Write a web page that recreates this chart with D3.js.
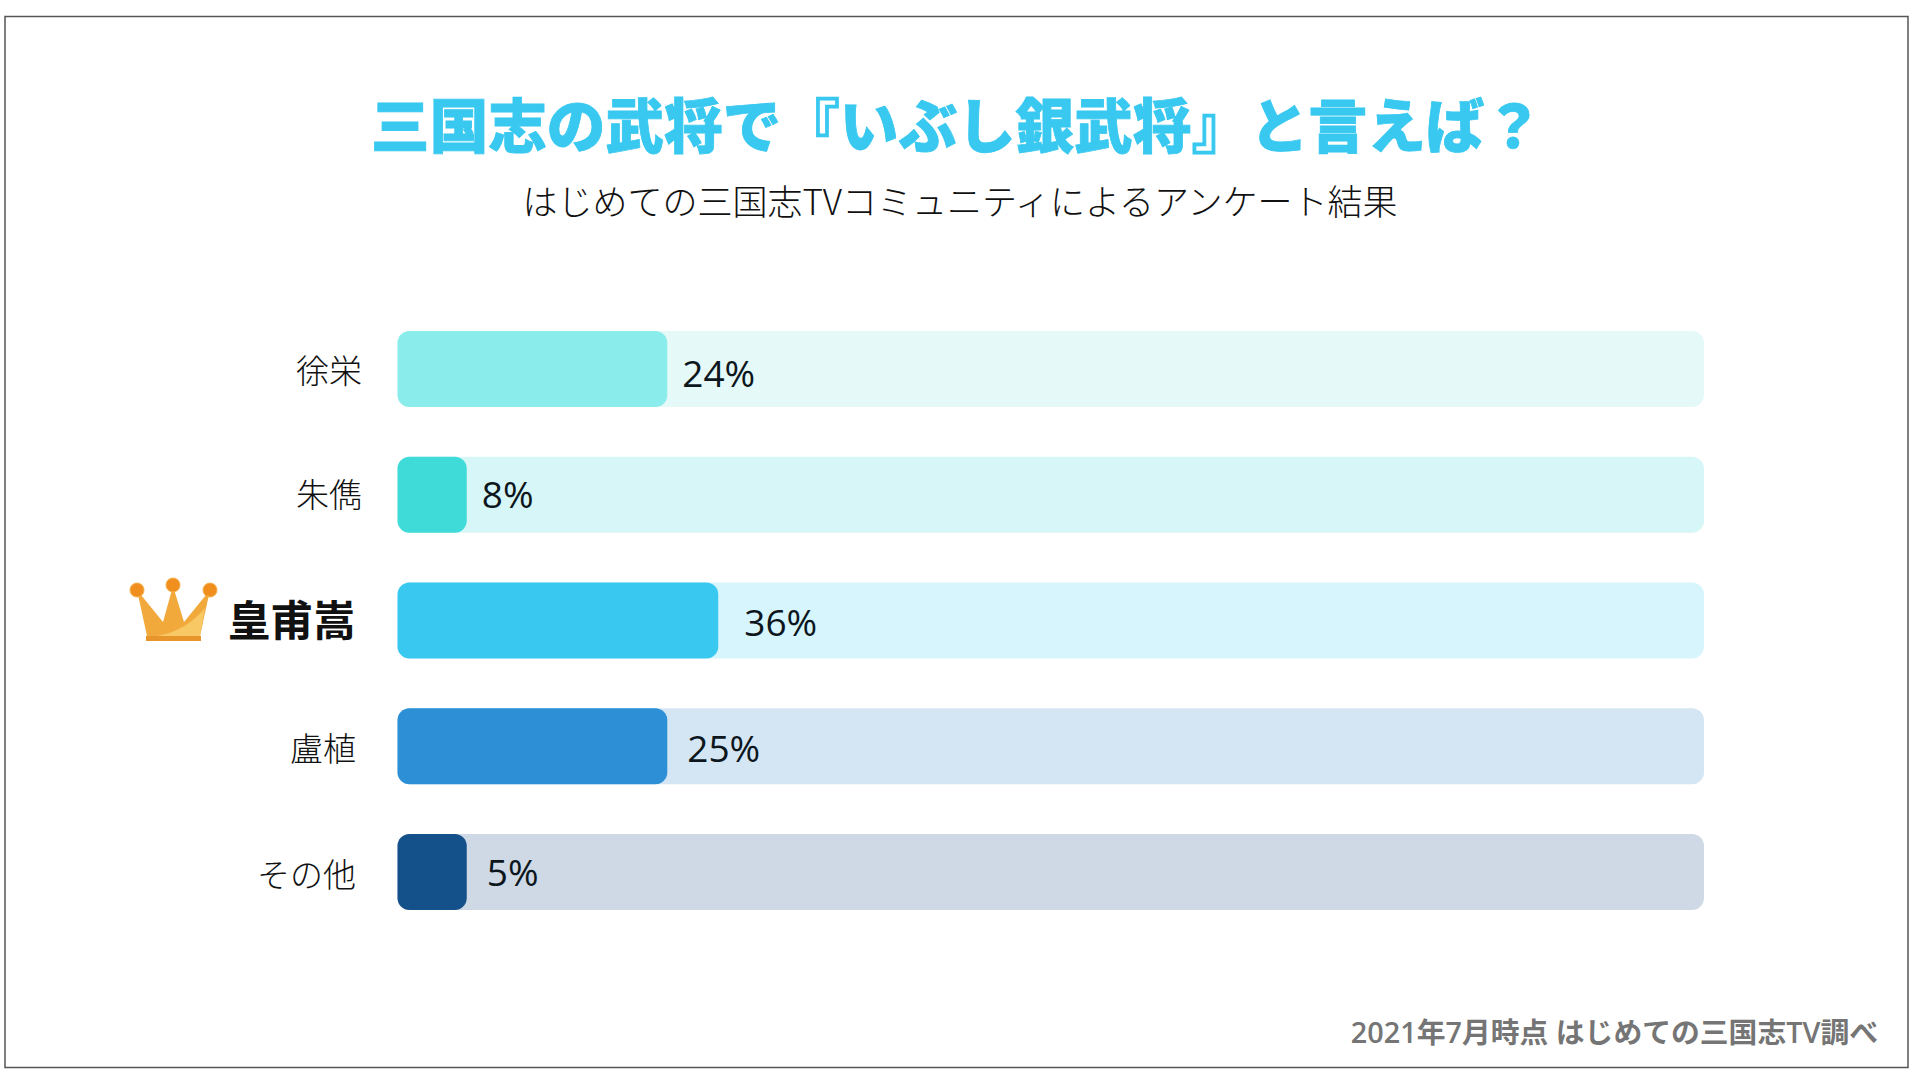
<!DOCTYPE html>
<html lang="ja">
<head>
<meta charset="utf-8">
<script src="https://cdn.jsdelivr.net/npm/d3@7"></script>
<style>html,body{margin:0;padding:0;background:#fff;overflow:hidden}svg{display:block}</style>
</head>
<body>
<script>
const titleText = "三国志の武将で『いぶし銀武将』と言えば？";
const subtitleText = "はじめての三国志TVコミュニティによるアンケート結果";
const sourceText = "2021年7月時点 はじめての三国志TV調べ";
const categories = ["徐栄", "朱儁", "皇甫嵩", "盧植", "その他"];
// Percentages as printed in the reference.
const percentLabels = [24, 8, 36, 25, 5];
// Bar lengths as drawn in the reference (percent of track); the original is not proportional to its labels.
const drawnLengths = [20.65, 5.3, 24.55, 20.65, 5.3];
const fillColors = ["#8aeceb", "#3edbd8", "#38c8f0", "#2d8fd6", "#14508a"];
const trackColors = ["#e5f9f8", "#d7f6f7", "#d6f5fd", "#d4e6f4", "#ced9e5"];
const winner = "皇甫嵩";

const W = 1920, H = 1080;
const cjk = "'Noto Sans CJK JP','Noto Sans',sans-serif";
const latin = "'Open Sans','Noto Sans CJK JP',sans-serif";
const valueGap = {"徐栄":15, "朱儁":15, "皇甫嵩":26, "盧植":20, "その他":20};
const valueShift = {"徐栄":5, "朱儁":0, "皇甫嵩":2, "盧植":2, "その他":1};
const labelEnd = {"徐栄":362, "朱儁":362, "皇甫嵩":355.5, "盧植":356, "その他":356};
const labelShift = {"徐栄":2, "朱儁":0, "皇甫嵩":0, "盧植":3, "その他":3};

const svg = d3.select("body").append("svg").attr("width", W).attr("height", H);
svg.append("rect").attr("width", W).attr("height", H).attr("fill", "#fff");
svg.append("rect").attr("x", 5).attr("y", 16.5).attr("width", 1903).attr("height", 1051)
  .attr("fill", "#fff").attr("stroke", "#555").attr("stroke-width", 1.5);

const x = d3.scaleLinear().domain([0, 100]).range([397.5, 1704]);
const y = d3.scaleBand().domain(categories).range([331, 910]).paddingInner(0.3956).paddingOuter(0);

svg.append("text").attr("x", 957).attr("y", 147.5).attr("text-anchor", "middle")
  .attr("font-family", cjk).attr("font-weight", 900).attr("font-size", 58.6)
  .attr("fill", "#38c8f0").attr("stroke", "#38c8f0").attr("stroke-width", 0.8).text(titleText);
svg.append("text").attr("x", 960).attr("y", 215).attr("text-anchor", "middle")
  .attr("font-family", cjk).attr("font-weight", 300).attr("font-size", 35)
  .attr("fill", "#111").text(subtitleText);

const rows = svg.selectAll("g.row").data(categories).join("g").attr("class", "row");
rows.append("rect").attr("x", x(0)).attr("y", d => y(d))
  .attr("width", x(100) - x(0)).attr("height", y.bandwidth()).attr("rx", 12)
  .attr("fill", (d, i) => trackColors[i]);
rows.append("rect").attr("x", x(0)).attr("y", d => y(d))
  .attr("width", (d, i) => x(drawnLengths[i]) - x(0)).attr("height", y.bandwidth()).attr("rx", 12)
  .attr("fill", (d, i) => fillColors[i]);
rows.append("text").attr("x", d => labelEnd[d])
  .attr("y", d => y(d) + y.bandwidth() / 2 + labelShift[d])
  .attr("dy", "0.36em").attr("text-anchor", "end").attr("font-family", cjk)
  .attr("font-weight", d => d === winner ? 700 : 300)
  .attr("font-size", d => d === winner ? 42.5 : 33)
  .attr("fill", "#111").text(d => d);
rows.append("text").attr("x", (d, i) => x(drawnLengths[i]) + valueGap[d])
  .attr("y", d => y(d) + y.bandwidth() / 2 + valueShift[d])
  .attr("dy", "0.36em").attr("font-family", latin).attr("font-weight", 500).attr("font-size", 37)
  .attr("fill", "#0c161c").text((d, i) => percentLabels[i] + "%");

svg.append("text").attr("x", 1878).attr("y", 1043).attr("text-anchor", "end")
  .attr("font-family", latin).attr("font-weight", 600).attr("font-size", 28.8)
  .attr("fill", "#757575").text(sourceText);

// Crown icon beside the winning row
const crown = svg.append("g").attr("transform", "translate(129,578)");
crown.append("path").attr("d", "M8 12 L34 44 L44 8 L55 44 L81 12 L71 58 L18 58 Z").attr("fill", "#f2a93b");
crown.append("path").attr("d", "M28 58 C50 54 64 44 76 30 L71 58 Z").attr("fill", "#f8c865");
crown.append("rect").attr("x", 17).attr("y", 58).attr("width", 55).attr("height", 5).attr("fill", "#e8962c");
crown.selectAll("circle").data([[8, 12], [44, 7], [81, 12]]).join("circle")
  .attr("cx", d => d[0]).attr("cy", d => d[1]).attr("r", 7)
  .attr("fill", "#f08f1e").attr("stroke", "#f5b04a").attr("stroke-width", 1);
</script>
</body>
</html>
